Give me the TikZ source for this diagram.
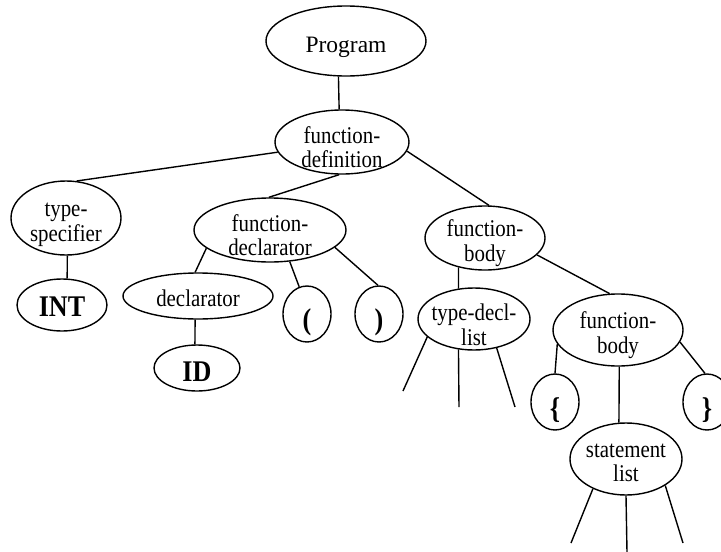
\documentclass[tikz,border=0pt]{standalone}
\usepackage{fontspec}
\setmainfont{Liberation Serif}[FakeStretch=0.87]
\newfontfamily\widefont{Liberation Serif}
\usetikzlibrary{shapes.geometric}
\tikzset{
  oval/.style={draw,ellipse,line width=1.4pt,inner sep=0pt},
  txt/.style={font=\fontsize{24}{24.5}\selectfont,align=center,inner sep=0pt},
  tok/.style={font=\fontsize{30}{30}\selectfont\bfseries,inner sep=0pt},
  link/.style={line width=1.4pt}
}

\begin{document}
\begin{tikzpicture}[x=1pt,y=-1pt]
  \useasboundingbox (0,0) rectangle (721,552);
  \clip (0,0) rectangle (721,552);
  % upper levels
  \node[oval,minimum width=160pt,minimum height=70pt,
        label={[txt,font=\fontsize{23.5}{24.5}\widefont,yshift=-6pt]center:Program}] (prog) at (346,41) {};
  \node[oval,minimum width=134pt,minimum height=64pt,
        label={[txt,yshift=-5pt]center:function-\\definition}] (fdef) at (342,142) {};
  \node[oval,minimum width=110pt,minimum height=74pt,
        label={[txt,yshift=-7pt]center:type-\\specifier}] (tspec) at (66,218) {};
  \node[oval,minimum width=152pt,minimum height=64pt,
        label={[txt,yshift=-5pt]center:function-\\declarator}] (fdec) at (270,230) {};
  \node[oval,minimum width=120pt,minimum height=64pt,
        label={[txt,yshift=-5pt]center:function-\\body}] (fbody) at (485,238) {};
  % leaves on the left
  \node[oval,minimum width=90pt,minimum height=52pt,
        label={[tok,yshift=-2pt]center:INT}] (int) at (62,305) {};
  \node[oval,minimum width=150pt,minimum height=46pt,
        label={[txt,yshift=-2pt]center:declarator}] (decl) at (198,296) {};
  \node[oval,minimum width=86pt,minimum height=46pt,
        label={[tok,yshift=-4pt]center:ID}] (id) at (197,368) {};
  \node[oval,minimum width=48pt,minimum height=56pt,
        label={[tok,yshift=-8pt]center:(}] (lpar) at (307,314) {};
  \node[oval,minimum width=48pt,minimum height=56pt,
        label={[tok,yshift=-8pt]center:)}] (rpar) at (379,314) {};
  % body part
  \node[oval,minimum width=112pt,minimum height=62pt,
        label={[txt,yshift=-6pt]center:type-decl-\\list}] (tdl) at (474,319) {};
  \node[oval,minimum width=130pt,minimum height=72pt,
        label={[txt,yshift=-5pt]center:function-\\body}] (fbody2) at (618,330) {};
  \node[oval,minimum width=48pt,minimum height=56pt,
        label={[tok,yshift=-8pt]center:\{}] (lbr) at (555,402) {};
  \node[oval,minimum width=48pt,minimum height=56pt,
        label={[tok,yshift=-8pt]center:\}}] (rbr) at (707,402) {};
  \node[oval,minimum width=112pt,minimum height=72pt,
        label={[txt,yshift=-4pt]center:statement\\list}] (stmt) at (626,459) {};
  % open ends
  \coordinate (t1) at (403,391);
  \coordinate (t2) at (459,407);
  \coordinate (t3) at (515,407);
  \coordinate (s1) at (571,543);
  \coordinate (s2) at (627,552);
  \coordinate (s3) at (683,543);
  % connectors
  \draw[link] (prog.258) -- (fdef.95);
  \draw[link] (fdef.189) -- (tspec.74);
  \draw[link] (fdef.265) -- (fdec.92);
  \draw[link] (fdef.352) -- (fbody.83);
  \draw[link] (tspec.272) -- (int.79);
  \draw[link] (fdec.196) -- (decl.97);
  \draw[link] (fdec.302) -- (lpar.106);
  \draw[link] (fdec.345) -- (rpar.92);
  \draw[link] (decl.263) -- (id.95);
  \draw[link] (fbody.228) -- (tdl.117);
  \draw[link] (fbody.342) -- (fbody2.103);
  \draw[link] (tdl.201) -- (t1);
  \draw[link] (tdl.243) -- (t2);
  \draw[link] (tdl.308) -- (t3);
  \draw[link] (fbody2.193) -- (lbr.90);
  \draw[link] (fbody2.349) -- (rbr.94);
  \draw[link] (fbody2.272) -- (stmt.101);
  \draw[link] (stmt.222) -- (s1);
  \draw[link] (stmt.270) -- (s2);
  \draw[link] (stmt.326) -- (s3);
\end{tikzpicture}
\end{document}
